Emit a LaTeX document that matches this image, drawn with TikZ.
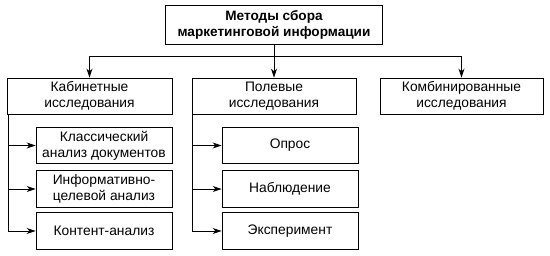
\documentclass[tikz,border=0pt]{standalone}
\usepackage{fontspec}
\setmainfont{Liberation Sans}
\usetikzlibrary{positioning,arrows.meta}
\tikzset{
  headbox/.style={rectangle, draw, line width=0.9pt, minimum width=217pt, minimum height=39pt, inner sep=0pt, align=center, font=\fontsize{13.6}{16}\selectfont\bfseries},
  groupbox/.style={rectangle, draw, line width=0.9pt, minimum width=164pt, minimum height=36pt, inner sep=0pt, align=center, font=\fontsize{13.8}{16}\selectfont},
  itembox/.style={rectangle, draw, line width=0.9pt, minimum width=136pt, minimum height=36.5pt, inner sep=0pt, align=center, font=\fontsize{13.8}{16}\selectfont},
  link/.style={line width=0.8pt},
  arrow/.style={-{Stealth[length=9pt,width=6pt]}, line width=0.8pt}
}
\begin{document}
\begin{tikzpicture}[x=1pt,y=-1pt]
\useasboundingbox (0,0) rectangle (550,256);
% top level
\node[headbox] (methods) at (274,24.5) {Методы сбора\\маркетинговой информации};
% groups
\node[groupbox, minimum width=165pt] (desk) at (89.5,96) {Кабинетные\\исследования};
\node[groupbox] (field) at (274,96) {Полевые\\исследования};
\node[groupbox, minimum width=163pt] (mixed) at (461.5,96) {Комбинированные\\исследования};
% desk research
\node[itembox] (classic) at (104,145.5) {Классический\\анализ документов};
\node[itembox] (target) at (104,189) {Информативно-\\целевой анализ};
\node[itembox] (content) at (104,231) {Контент-анализ};
% field research
\node[itembox] (survey) at (290,145.5) {Опрос};
\node[itembox] (watch) at (290,189) {Наблюдение};
\node[itembox] (experiment) at (290,231) {Эксперимент};

\coordinate (fork) at (methods.south |- 0,56);
\draw[link] (methods.south) -- (fork);
\draw[arrow] (fork) -| (desk.north);
\draw[arrow] (fork) -- (field.north);
\draw[arrow] (fork) -| (mixed.north);

\foreach \item in {classic,target,content}
  \draw[arrow] ([xshift=1.5pt]desk.south west) |- (\item.west);
\foreach \item in {survey,watch,experiment}
  \draw[arrow] ([xshift=0.5pt]field.south west) |- (\item.west);
\end{tikzpicture}
\end{document}
